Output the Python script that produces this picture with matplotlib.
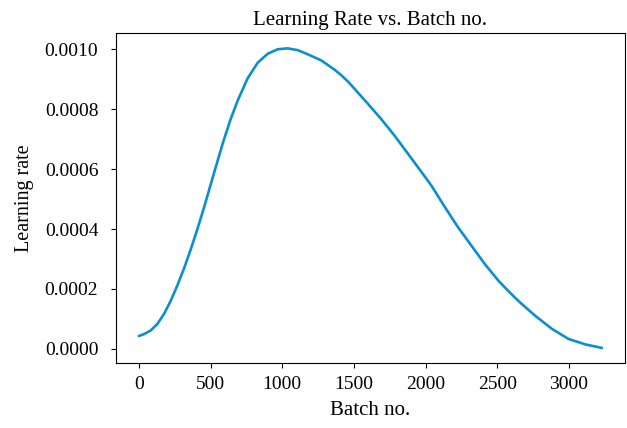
import matplotlib
matplotlib.use("Agg")
import matplotlib.pyplot as plt

# learning rate per batch
batch_no = [0, 35, 82, 129, 175, 222, 269, 315, 362, 410, 455, 519, 588, 640,
            689, 759, 829, 899, 969, 1039, 1109, 1179, 1272, 1365, 1411, 1459,
            1505, 1598, 1691, 1785, 1878, 1971, 2041, 2134, 2228, 2321, 2414,
            2508, 2566, 2624, 2671, 2764, 2881, 2998, 3114, 3231]
learning_rate = [0.000043, 0.000049, 0.000061, 0.000083, 0.000116, 0.000160,
                 0.000212, 0.000268, 0.000332, 0.000402, 0.000472, 0.000578,
                 0.000690, 0.000766, 0.000828, 0.000903, 0.000955, 0.000985,
                 0.001000, 0.001003, 0.000997, 0.000983, 0.000963, 0.000932,
                 0.000914, 0.000892, 0.000868, 0.000818, 0.000767, 0.000711,
                 0.000651, 0.000591, 0.000545, 0.000474, 0.000405, 0.000344,
                 0.000283, 0.000228, 0.000199, 0.000171, 0.000150, 0.000111,
                 0.000067, 0.000033, 0.000015, 0.000003]

plt.rcParams['font.family'] = ['Liberation Serif', 'DejaVu Serif']

fig = plt.figure(figsize=(6.27, 4.28), dpi=100)
ax = fig.add_axes([0.1845, 0.152, 0.8125, 0.770])
ax.plot(batch_no, learning_rate, color='#0a8fcf', linewidth=1.9,
        solid_joinstyle='round', solid_capstyle='round')
ax.set_title('Learning Rate vs. Batch no.', fontsize=15)
ax.set_xlabel('Batch no.', fontsize=15, labelpad=6)
ax.set_ylabel('Learning rate', fontsize=14.5, labelpad=8)
ax.set_xticks([0, 500, 1000, 1500, 2000, 2500, 3000])
ax.set_yticks([0.0, 0.0002, 0.0004, 0.0006, 0.0008, 0.0010])
ax.set_yticklabels(['0.0000', '0.0002', '0.0004', '0.0006', '0.0008', '0.0010'])
ax.tick_params(labelsize=14)
ax.tick_params(axis='y', pad=9)
ax.tick_params(axis='x', pad=6)

fig.savefig('out.png', dpi=100)
